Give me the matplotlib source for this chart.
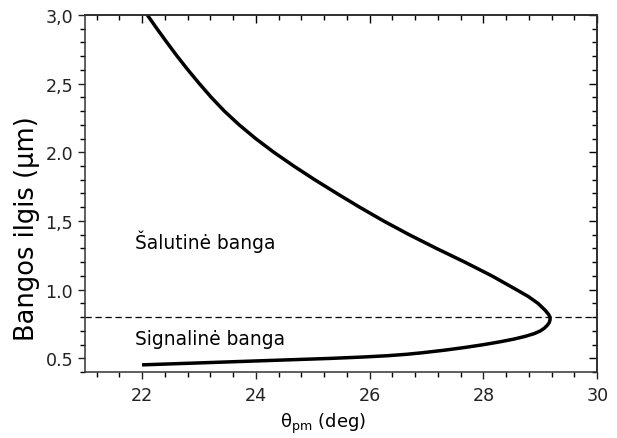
import numpy as np
import matplotlib
matplotlib.use("Agg")
import matplotlib.pyplot as plt
from matplotlib.ticker import FixedLocator, FixedFormatter, MultipleLocator

# phase matching curve:
# idler branch (top) -> turning point -> signal branch (bottom)
wavelength = [3.0, 2.9, 2.8, 2.7, 2.6, 2.5, 2.4, 2.3, 2.2, 2.1, 2.0,
              1.9, 1.8, 1.7, 1.6, 1.5, 1.4, 1.3, 1.2, 1.1, 1.0,
              0.95, 0.9, 0.85, 0.82, 0.8, 0.78, 0.76, 0.74, 0.72, 0.70,
              0.68, 0.66, 0.64, 0.62, 0.60, 0.58, 0.56, 0.54, 0.53, 0.52,
              0.51, 0.50, 0.49, 0.48, 0.47, 0.46, 0.453]
theta = [22.09, 22.26, 22.435, 22.615, 22.805, 23.005, 23.215, 23.445, 23.705, 23.995, 24.315,
         24.665, 25.035, 25.425, 25.825, 26.245, 26.695, 27.175, 27.675, 28.15, 28.58,
         28.79, 28.96, 29.085, 29.145, 29.17, 29.17, 29.155, 29.12, 29.07, 29.0,
         28.89, 28.73, 28.53, 28.28, 28.0, 27.68, 27.32, 26.9, 26.65, 26.33,
         25.88, 25.31, 24.6, 23.9, 23.2, 22.49, 22.0]
degenerate = 0.8

x_ticks = [22, 24, 26, 28, 30]
y_ticks = [0.5, 1.0, 1.5, 2.0, 2.5, 3.0]
y_ticklabels = ["0.5", "1.0", "1,5", "2.0", "2,5", "3,0"]

plt.rcParams['font.family'] = ['DejaVu Sans']

fig = plt.figure(figsize=(6.17, 4.39), dpi=100)
ax = fig.add_axes([0.138, 0.15, 0.830, 0.814])

ax.plot(theta, wavelength, color='k', lw=2.5, solid_joinstyle='round', solid_capstyle='butt')
ax.axhline(degenerate, color='k', lw=0.9, ls=(0, (5, 3)))

ax.text(21.88, 1.357, "Šalutinė banga", fontsize=13.4, va='center', ha='left')
ax.text(21.88, 0.642, "Signalinė banga", fontsize=13.4, va='center', ha='left')

ax.set_xlim(21, 30)
ax.set_ylim(0.4, 3.0)

ax.xaxis.set_major_locator(FixedLocator(x_ticks))
ax.xaxis.set_minor_locator(FixedLocator(np.arange(21.2, 30, 0.4)))
ax.yaxis.set_major_locator(FixedLocator(y_ticks))
ax.yaxis.set_major_formatter(FixedFormatter(y_ticklabels))
ax.yaxis.set_minor_locator(MultipleLocator(0.1))

ax.tick_params(which='major', direction='out', length=5, width=1.0, labelsize=12.6, colors='#222222')
ax.tick_params(which='minor', direction='out', length=3.5, width=1.0)
ax.tick_params(axis='x', pad=5)

for s in ax.spines.values():
    s.set_linewidth(1.1)
    s.set_color('#333333')

# inward ticks on top and right
top = ax.secondary_xaxis('top')
top.xaxis.set_major_locator(FixedLocator(x_ticks))
top.xaxis.set_minor_locator(FixedLocator(np.arange(21.2, 30, 0.4)))
top.tick_params(which='major', direction='in', length=5.5, width=1.0, labeltop=False)
top.tick_params(which='minor', direction='in', length=3.5, width=1.0)
top.spines['top'].set_linewidth(1.1)

right = ax.secondary_yaxis('right')
right.yaxis.set_major_locator(FixedLocator(y_ticks))
right.yaxis.set_minor_locator(MultipleLocator(0.1))
right.tick_params(which='major', direction='in', length=5.5, width=1.0, labelright=False)
right.tick_params(which='minor', direction='in', length=3.5, width=1.0)
right.spines['right'].set_linewidth(1.1)

ax.set_xlabel('θ$_{\\rm pm}$ (deg)', fontsize=13)
ax.xaxis.set_label_coords(0.465, -0.108)
ax.set_ylabel('Bangos ilgis (μm)', fontsize=18.5)
ax.yaxis.set_label_coords(-0.088, 0.404)

fig.savefig("out.png", dpi=100)
